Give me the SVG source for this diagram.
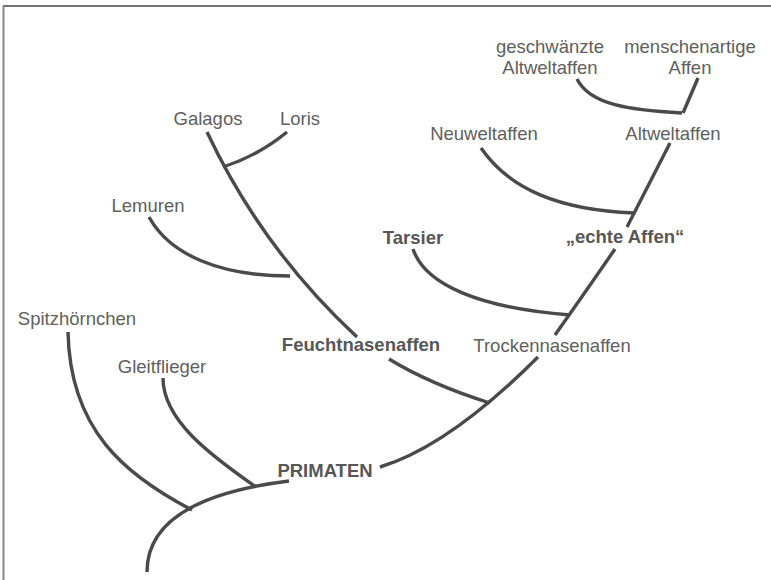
<svg xmlns="http://www.w3.org/2000/svg" width="771" height="580" viewBox="0 0 771 580">
<style>
  .lbl { font-family: "Liberation Sans", Arial, sans-serif; font-size: 18.5px; fill: #606060; text-anchor: middle; }
  .b { font-weight: bold; fill: #575757; }
  .br { fill: none; stroke: #4a4a4a; stroke-width: 3.4; stroke-linecap: butt; }
</style>
<rect width="771" height="580" fill="#ffffff"/>
<g id="frame">
  <line x1="3" y1="6" x2="771" y2="6" stroke="#444444" stroke-width="1.6"/>
  <line x1="3.5" y1="6" x2="3.5" y2="580" stroke="#888888" stroke-width="2"/>
</g>
<g id="connectors">
  <path class="br" d="M147,572 C147,520 200,492 289,481"/>
  <path class="br" d="M68,332 C70,430 125,475 192,510"/>
  <path class="br" d="M163,378 C163,420 210,455 256,487"/>
  <path class="br" d="M380,467 C420,455 470,425 538,357"/>
  <path class="br" d="M389,359 C420,378 455,392 490,403"/>
  <path class="br" d="M357,337 Q262,249 207,132"/>
  <path class="br" d="M287,132 C265,150 245,160 223,167"/>
  <path class="br" d="M149,217 C170,255 220,276 290,276"/>
  <path class="br" d="M555,335 Q584,294 615,249"/>
  <path class="br" d="M413,249 C425,285 480,308 570,315"/>
  <path class="br" d="M627,227 L670,143"/>
  <path class="br" d="M481,148 C510,190 560,210 634,213"/>
  <path class="br" d="M683,113 L698,78"/>
  <path class="br" d="M577,79 C590,105 630,110 682,113"/>
</g>
<g id="n-spitzhoernchen"><text class="lbl" x="77" y="325">Spitzhörnchen</text></g>
<g id="n-gleitflieger"><text class="lbl" x="162" y="373">Gleitflieger</text></g>
<g id="n-primaten"><text class="lbl b" x="325" y="477">PRIMATEN</text></g>
<g id="n-feuchtnasenaffen"><text class="lbl b" x="361" y="351">Feuchtnasenaffen</text></g>
<g id="n-trockennasenaffen"><text class="lbl" x="552" y="352">Trockennasenaffen</text></g>
<g id="n-lemuren"><text class="lbl" x="148" y="212">Lemuren</text></g>
<g id="n-galagos"><text class="lbl" x="208" y="125">Galagos</text></g>
<g id="n-loris"><text class="lbl" x="300" y="125">Loris</text></g>
<g id="n-tarsier"><text class="lbl b" x="413" y="244">Tarsier</text></g>
<g id="n-echte-affen"><text class="lbl b" x="625" y="243">„echte Affen“</text></g>
<g id="n-neuweltaffen"><text class="lbl" x="484" y="140">Neuweltaffen</text></g>
<g id="n-altweltaffen"><text class="lbl" x="673" y="140">Altweltaffen</text></g>
<g id="n-geschwaenzte"><text class="lbl" x="550" y="53">geschwänzte</text><text class="lbl" x="550" y="74">Altweltaffen</text></g>
<g id="n-menschenartige"><text class="lbl" x="690" y="53">menschenartige</text><text class="lbl" x="690" y="74">Affen</text></g>
</svg>
